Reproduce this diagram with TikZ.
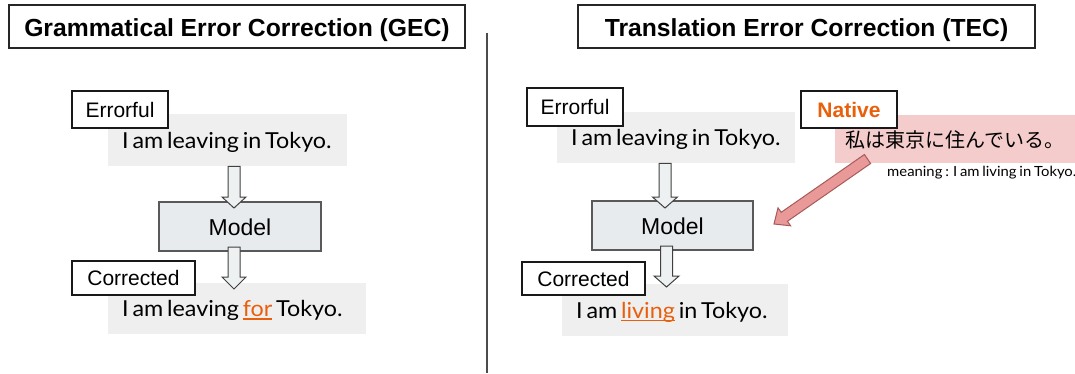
\documentclass[tikz,border=0pt]{standalone}
\usepackage{fontspec}
\setmainfont{Lato}[FakeStretch=1.06]
\newfontfamily\arialf{Liberation Sans}
\newfontfamily\jpf{Noto Sans CJK JP}
\usetikzlibrary{calc}
\definecolor{orng}{HTML}{E8600C}
\definecolor{gfill}{HTML}{EFEFEF}
\definecolor{modelfill}{HTML}{E8EBED}
\definecolor{pinkfill}{HTML}{F4CCCC}
\definecolor{parrowfill}{HTML}{EA9999}
\definecolor{parrowdraw}{HTML}{A65A5A}
\definecolor{arrowfill}{HTML}{EEF1F1}
\newcommand\orul[1]{{\color{orng}\setbox0\hbox{#1}\rlap{\rule[-2.8pt]{\wd0}{1.3pt}}\box0}}
\newcommand\gtext[1]{\mbox{\spaceskip=3.8pt\relax #1}}
\newcommand\mtext[1]{\mbox{\spaceskip=2.8pt\relax #1}}
\begin{document}
\begin{tikzpicture}[x=1pt,y=-1pt,
  titlebox/.style={draw=black!85, line width=2pt, fill=white, inner sep=0pt,
    font=\arialf\bfseries\fontsize{24.7}{28}\selectfont, text height=21pt, text depth=0pt},
  lbl/.style={draw=black!90, line width=2pt, fill=white, inner sep=0pt,
    font=\arialf\fontsize{21}{24}\selectfont, text height=15.5pt, text depth=0pt},
  gbox/.style={fill=gfill, anchor=north west, inner xsep=14pt, inner ysep=0pt, align=left,
    font=\fontsize{22}{26}\selectfont, text height=16.5pt, text depth=0pt},
  model/.style={draw=black!65, line width=1.3pt, fill=modelfill, inner sep=0pt,
    font=\arialf\fontsize{23}{26}\selectfont, text height=17pt, text depth=0pt},
  barrow/.style={draw=black!75, line width=1pt, fill=arrowfill, line join=miter},
  divider/.style={draw=black!70, line width=1.4pt},
  pinkbox/.style={fill=pinkfill, anchor=north west, inner sep=0pt},
  jptext/.style={font=\jpf\fontsize{20}{24}\selectfont, inner sep=0pt},
  meaningtext/.style={font=\fontsize{14}{16}\selectfont, inner sep=0pt},
  parrow/.style={draw=parrowdraw, line width=1pt, fill=parrowfill, line join=miter}
]
\useasboundingbox (0,0) rectangle (1075,374);

% ---------- left: GEC ----------
\node[titlebox, minimum width=456pt, minimum height=43pt] (tL) at (237,26.5) {Grammatical Error Correction (GEC)};
\node[gbox, minimum width=239pt, minimum height=52pt, text width=211pt] (gL1) at (108,114) {\gtext{I am leaving in Tokyo.}};
\node[gbox, minimum width=258pt, minimum height=51pt, text width=230pt] (gL2) at (108,283) {\gtext{I am leaving \orul{for} Tokyo.}};
\node[model, minimum width=162pt, minimum height=49pt] (mL) at (240,226.5) {Model};
\draw[barrow] (228,0 |- gL1.south) -- (240,0 |- gL1.south) -- (240,197) -- (246,197) -- (234,208) -- (222,197) -- (228,197) -- cycle;
\draw[barrow] (228,247) -- (240,247) -- (240,277) -- (246,277) -- (234,289) -- (222,277) -- (228,277) -- cycle;
\node[lbl, minimum width=96pt, minimum height=37pt] (eL) at (120,109.5) {Errorful};
\node[lbl, minimum width=123pt, minimum height=34pt] (cL) at (133.5,278) {Corrected};

% ---------- divider ----------
\draw[divider] (487,33) -- (487,373);

% ---------- right: TEC ----------
\node[titlebox, minimum width=457pt, minimum height=43pt] (tR) at (806.5,26.5) {Translation Error Correction (TEC)};
\node[gbox, minimum width=238pt, minimum height=51pt, text width=210pt] (gR1) at (557,112) {\gtext{I am leaving in Tokyo.}};
\node[gbox, minimum width=226pt, minimum height=52pt, text width=198pt] (gR2) at (562,284) {\gtext{I am \orul{living} in Tokyo.}};
\node[model, minimum width=161pt, minimum height=49pt] (mR) at (672.5,225.5) {Model};
\draw[barrow] (659,0 |- gR1.south) -- (671,0 |- gR1.south) -- (671,197) -- (677.5,197) -- (665,208) -- (652.5,197) -- (659,197) -- cycle;
\draw[barrow] (660.5,246) -- (672.5,246) -- (672.5,276) -- (679,276) -- (666.5,287) -- (654,276) -- (660.5,276) -- cycle;
\node[lbl, minimum width=96pt, minimum height=38pt] (eR) at (575,107) {Errorful};
\node[lbl, minimum width=123pt, minimum height=33pt] (cR) at (583.5,278.5) {Corrected};

\node[pinkbox, minimum width=240pt, minimum height=48pt] (jp) at (835,115) {};
\node[jptext, anchor=west] (jpt) at (845,139.5) {私は東京に住んでいる。};
\node[meaningtext, anchor=base west] (mean) at (887,176) {\mtext{meaning : I am living in Tokyo.}};
\node[lbl, minimum width=96pt, minimum height=37pt, text=orng, font=\arialf\bfseries\fontsize{21}{24}\selectfont] (nat) at (849,109.5) {Native};

\coordinate (ptail) at (867.5,159);
\coordinate (ptip) at (774,224);
\draw[parrow] (864.4,154.5) -- (870.6,163.5) -- (787.4,221.3) -- (790.6,225.8) -- (ptip) -- (778.0,207.8) -- (781.2,212.3) -- cycle;
\end{tikzpicture}
\end{document}
